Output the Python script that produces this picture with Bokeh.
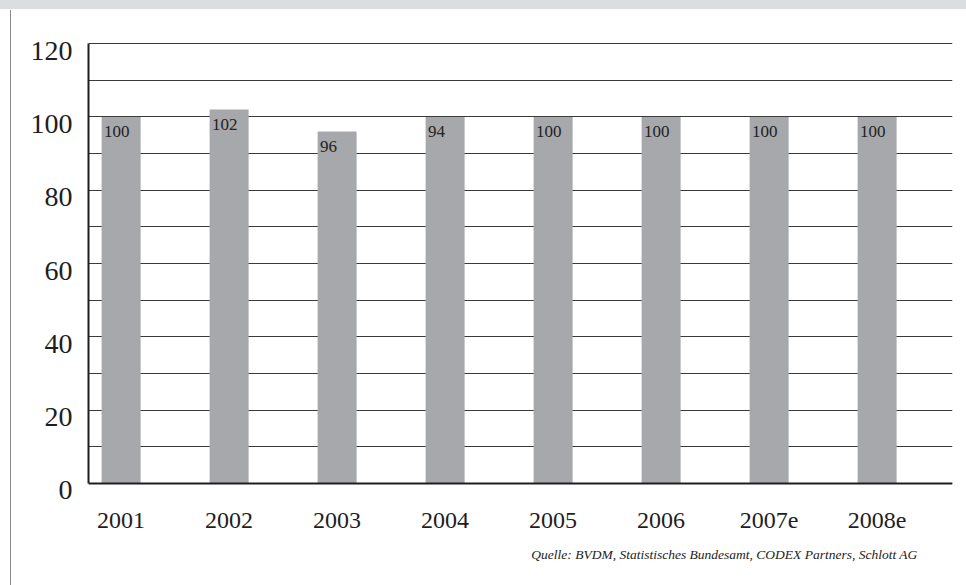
from bokeh.plotting import figure
from bokeh.models import (Range1d, FixedTicker, ColumnDataSource, LabelSet, Title, Div,
                          LinearAxis, Span)
from bokeh.layouts import column, row
from bokeh.embed import file_html
from bokeh.resources import INLINE

# ---- data ----
years = ["2001", "2002", "2003", "2004", "2005", "2006", "2007e", "2008e"]
bar_values = [100, 102, 96, 100, 100, 100, 100, 100]
value_labels = ["100", "102", "96", "94", "100", "100", "100", "100"]
y_tick_values = [0, 20, 40, 60, 80, 100, 120]
grid_values = [0, 10, 20, 30, 40, 50, 60, 70, 80, 90, 100, 110, 120]
source_note = "Quelle: BVDM, Statistisches Bundesamt, CODEX Partners, Schlott AG"

FONT = "Liberation Serif"
BAR_COLOR = "#a7a8ab"
INK = "#1e1e1e"

xs = list(range(len(years)))

# main value range; the frame reaches a little below zero so the tick labels
# (on a shifted twin range) sit slightly below their grid lines, as in the original
Y_LOW, Y_HIGH = -1.93, 120.3
LABEL_SHIFT = 1.92

p = figure(width=955, height=576,
           x_range=Range1d(-0.302, len(years) - 0.302),
           y_range=Range1d(Y_LOW, Y_HIGH),
           min_border_left=77, min_border_right=14,
           min_border_top=33, min_border_bottom=95,
           output_backend="svg", toolbar_location=None)
p.outline_line_color = None
p.background_fill_color = "white"
p.border_fill_color = "white"
p.yaxis.visible = False

# grid
p.xgrid.visible = False
p.ygrid.ticker = FixedTicker(ticks=grid_values)
p.ygrid.grid_line_color = "#3a3a3a"
p.ygrid.grid_line_width = 1.2

# labelled y axis on a twin range shifted by a few units
p.extra_y_ranges = {"lab": Range1d(Y_LOW + LABEL_SHIFT, Y_HIGH + LABEL_SHIFT)}
yax = LinearAxis(y_range_name="lab",
                 ticker=FixedTicker(ticks=y_tick_values),
                 bounds=(y_tick_values[0] + LABEL_SHIFT, y_tick_values[-1] + LABEL_SHIFT),
                 major_label_overrides={v: str(v) for v in y_tick_values})
yax.major_tick_line_color = None
yax.minor_tick_line_color = None
yax.major_tick_out = 0
yax.major_tick_in = 0
yax.major_label_text_font = FONT
yax.major_label_text_font_size = "28px"
yax.major_label_text_color = INK
yax.major_label_standoff = 16
yax.axis_line_width = 2
yax.axis_line_color = INK
p.add_layout(yax, "left")

# x axis: labels only; the zero line is drawn as a span
p.xaxis.ticker = FixedTicker(ticks=xs)
p.xaxis.major_label_overrides = {i: y for i, y in zip(xs, years)}
p.xaxis.major_tick_line_color = None
p.xaxis.minor_tick_line_color = None
p.xaxis.major_tick_out = 0
p.xaxis.major_tick_in = 0
p.xaxis.axis_line_color = None
p.xaxis.major_label_text_font = FONT
p.xaxis.major_label_text_font_size = "24px"
p.xaxis.major_label_text_color = INK
p.xaxis.major_label_standoff = 22

src = ColumnDataSource(dict(x=xs, top=bar_values, lab=value_labels))
p.vbar(x="x", top="top", width=0.361, bottom=0, source=src,
       fill_color=BAR_COLOR, line_color=None)

p.add_layout(Span(location=0, dimension="width", line_color=INK, line_width=2))

p.add_layout(LabelSet(x="x", y="top", text="lab", source=src,
                      x_offset=-17, y_offset=-15, text_align="left",
                      text_baseline="middle", text_font=FONT,
                      text_font_size="17px", text_color="#222222"))

p.add_layout(Title(text=source_note, align="right", offset=35, standoff=29,
                   text_font=FONT, text_font_style="italic",
                   text_font_size="13.5px", text_color="#222222"), "below")

band = Div(width=966, height=9, margin=0, styles={"background-color": "#dcdddf"})
rule = Div(width=11, height=575, margin=(1, 0, 0, 0),
           styles={"border-right": "1.5px solid #8a8a8a", "box-sizing": "border-box"})

layout = column(band, row(rule, p, spacing=0), spacing=0)

open("out.html", "w").write(file_html(layout, INLINE))
